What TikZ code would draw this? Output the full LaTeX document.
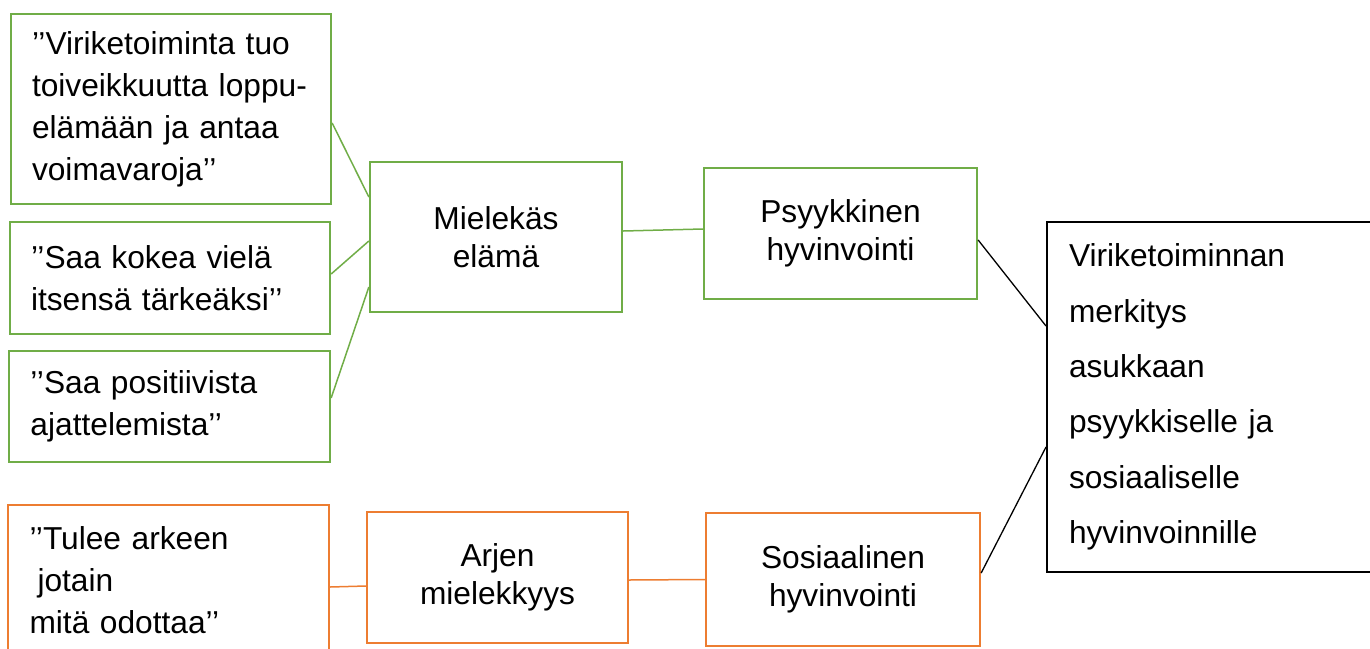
\documentclass[tikz,border=0pt]{standalone}
\usepackage{fontspec}
\setmainfont{Liberation Sans}
\definecolor{gr}{HTML}{70AD47}
\definecolor{og}{HTML}{ED7D31}
\hyphenpenalty=10000\relax
\begin{document}
\begin{tikzpicture}[x=1pt,y=-1pt,
  box/.style={draw, rectangle, inner sep=0pt, line width=2.3pt},
  gbox/.style={box, draw=gr},
  obox/.style={box, draw=og},
  quote/.style={align=left, text width=278pt,
    font=\fontsize{31.7}{42}\selectfont},
  mid/.style={align=center, font=\fontsize{31.7}{38.5}\selectfont},
  glink/.style={draw=gr, line width=1.5pt},
  olink/.style={draw=og, line width=1.5pt},
  klink/.style={draw=black, line width=1.3pt}
]
\useasboundingbox (0,0) rectangle (1370,648);
\clip (0,0) rectangle (1370,648);
% green quote boxes
\node[gbox, quote, minimum width=320pt, minimum height=190pt] (A) at (171,109)
  {’’Viriketoiminta tuo\\toiveikkuutta loppu-\\elämään ja antaa\\voimavaroja’’};
\node[gbox, quote, minimum width=320pt, minimum height=112pt] (B) at (170,278)
  {’’Saa kokea vielä\\itsensä tärkeäksi’’};
\node[gbox, quote, minimum width=321pt, minimum height=111pt] (C) at (169.5,406.5)
  {’’Saa positiivista\\ajattelemista’’};
% orange quote box
\node[obox, quote, minimum width=321pt, minimum height=150pt] (T) at (168.5,580)
  {’’Tulee arkeen\\\hspace*{8pt}jotain\\mitä odottaa’’};
% middle boxes
\node[gbox, mid, minimum width=252pt, minimum height=150pt] (M) at (496,237)
  {Mielekäs\\elämä};
\node[gbox, mid, minimum width=273pt, minimum height=131pt] (P) at (840.5,233.5)
  {Psyykkinen\\hyvinvointi};
\node[obox, mid, minimum width=261pt, minimum height=131pt] (J) at (497.5,577.5)
  {Arjen\\mielekkyys};
\node[obox, mid, minimum width=274pt, minimum height=133pt] (S) at (843,579.5)
  {Sosiaalinen\\hyvinvointi};
% right box
\node[box, line width=2pt, draw=black, align=left, text width=309pt,
  font=\fontsize{31.7}{55.3}\selectfont,
  minimum width=353pt, minimum height=350pt] (R) at (1223.5,397)
  {Viriketoiminnan\\merkitys\\asukkaan\\psyykkiselle ja\\sosiaaliselle\\hyvinvoinnille};
% connectors
\draw[glink] ([yshift=-14pt]A.east) -- ([yshift=40pt]M.west);
\draw[glink] ([yshift=4pt]B.east) -- ([yshift=-4pt]M.west);
\draw[glink] ([yshift=8.5pt]C.east) -- ([yshift=-50pt]M.west);
\draw[glink] ([yshift=6pt]M.east) -- ([yshift=4.5pt]P.west);
\draw[klink] ([yshift=-6.5pt]P.east) -- ([yshift=71pt]R.west);
\draw[klink] ([yshift=6.5pt]S.east) -- ([yshift=-50pt]R.west);
\draw[olink] ([yshift=-7pt]T.east) -- ([yshift=-8.5pt]J.west);
\draw[olink] ([yshift=-2.5pt]J.east) -- (S.west);
\end{tikzpicture}
\end{document}
